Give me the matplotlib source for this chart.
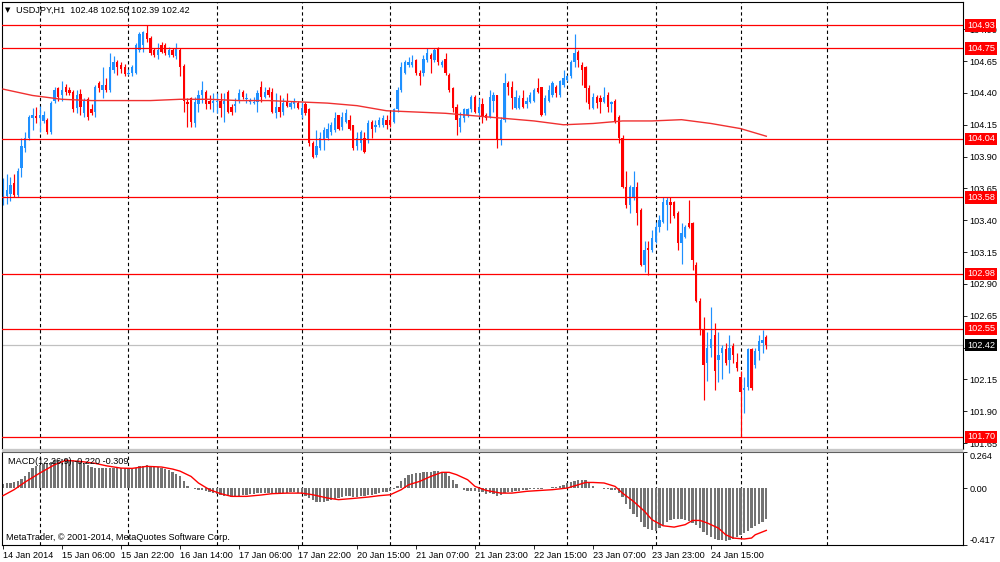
import matplotlib
matplotlib.use('Agg')
import matplotlib.pyplot as plt
import numpy as np
from matplotlib.patches import Rectangle

# ---------------- data (USDJPY H1) ----------------
opens = [
 103.56,103.59,103.61,103.69,103.60,103.81,103.97,104.05,104.20,104.22,
 104.20,104.18,104.19,104.09,104.34,104.44,104.38,104.45,104.42,104.41,
 104.28,104.39,104.24,104.35,104.27,104.25,104.48,104.42,104.46,104.42,
 104.58,104.64,104.62,104.60,104.55,104.56,104.56,104.74,104.78,104.87,
 104.83,104.74,104.70,104.78,104.78,104.70,104.74,104.69,104.74,104.61,
 104.33,104.36,104.16,104.31,104.38,104.41,104.34,104.32,104.33,104.34,
 104.31,104.41,104.29,104.30,104.34,104.41,104.35,104.33,104.32,104.33,
 104.45,104.37,104.42,104.41,104.24,104.29,104.25,104.34,104.29,104.31,
 104.32,104.23,104.31,104.27,104.01,103.91,103.97,104.03,104.05,104.09,
 104.11,104.23,104.13,104.17,104.19,104.15,103.98,104.01,104.05,104.03,
 104.17,104.13,104.15,104.15,104.19,104.19,104.17,104.27,104.42,104.56,
 104.62,104.62,104.66,104.56,104.56,104.66,104.70,104.66,104.75,104.62,
 104.67,104.54,104.44,104.29,104.13,104.20,104.23,104.27,104.37,104.24,
 104.31,104.23,104.21,104.34,104.38,104.03,104.19,104.48,104.45,104.28,
 104.28,104.36,104.31,104.33,104.34,104.44,104.45,104.24,104.34,104.38,
 104.45,104.38,104.46,104.50,104.53,104.64,104.72,104.62,104.60,104.44,
 104.28,104.37,104.36,104.33,104.38,104.31,104.34,104.21,104.05,103.66,
 103.52,103.58,103.66,103.48,103.05,103.18,103.17,103.23,103.35,103.39,
 103.52,103.54,103.54,103.46,103.22,103.27,103.38,103.38,103.05,102.77,
 102.54,102.28,102.40,102.50,102.30,102.36,102.39,102.30,102.41,102.29,
 102.17,102.07,102.09,102.39,102.26,102.37,102.44,102.48]
closes = [
 103.65,103.64,103.68,103.60,103.79,103.98,104.05,104.21,104.23,104.20,
 104.23,104.23,104.09,104.32,104.42,104.37,104.42,104.41,104.40,104.27,
 104.38,104.29,104.34,104.21,104.24,104.45,104.44,104.46,104.42,104.60,
 104.64,104.60,104.59,104.55,104.56,104.60,104.78,104.86,104.88,104.82,
 104.71,104.70,104.74,104.72,104.71,104.74,104.70,104.75,104.60,104.34,
 104.31,104.17,104.33,104.38,104.42,104.31,104.31,104.34,104.34,104.28,
 104.34,104.25,104.25,104.31,104.40,104.37,104.36,104.34,104.33,104.40,
 104.37,104.41,104.38,104.25,104.29,104.25,104.32,104.30,104.32,104.33,
 104.28,104.28,104.24,104.01,103.90,103.98,104.05,104.11,104.12,104.15,
 104.20,104.12,104.21,104.24,104.12,103.97,104.05,104.09,103.94,104.16,
 104.12,104.15,104.19,104.20,104.15,104.15,104.27,104.42,104.60,104.64,
 104.64,104.64,104.56,104.53,104.67,104.71,104.67,104.74,104.64,104.64,
 104.56,104.42,104.28,104.19,104.20,104.27,104.27,104.37,104.25,104.29,
 104.21,104.20,104.37,104.38,104.03,104.19,104.48,104.45,104.36,104.37,
 104.36,104.29,104.34,104.38,104.42,104.41,104.23,104.36,104.42,104.48,
 104.40,104.49,104.52,104.53,104.64,104.71,104.66,104.58,104.44,104.31,
 104.37,104.32,104.33,104.37,104.29,104.33,104.17,104.05,103.66,103.52,
 103.66,103.66,103.46,103.05,103.17,103.17,103.26,103.35,103.40,103.54,
 103.56,103.52,103.43,103.22,103.30,103.35,103.35,103.09,102.77,102.54,
 102.26,102.40,102.47,102.22,102.34,102.40,102.28,102.40,102.34,102.24,
 102.05,102.08,102.39,102.08,102.37,102.45,102.46,102.42]
highs = [
 103.73,103.76,103.74,103.76,103.81,104.05,104.09,104.23,104.28,104.29,
 104.30,104.26,104.20,104.34,104.45,104.45,104.49,104.47,104.45,104.42,
 104.42,104.43,104.36,104.37,104.31,104.46,104.49,104.60,104.52,104.71,
 104.69,104.66,104.64,104.63,104.59,104.62,104.79,104.88,104.89,104.93,
 104.85,104.75,104.79,104.80,104.79,104.76,104.75,104.79,104.75,104.63,
 104.36,104.37,104.37,104.42,104.49,104.42,104.38,104.40,104.40,104.40,
 104.40,104.42,104.31,104.36,104.43,104.42,104.40,104.36,104.37,104.42,
 104.49,104.45,104.45,104.44,104.40,104.38,104.36,104.40,104.34,104.36,
 104.34,104.33,104.33,104.28,104.02,104.11,104.09,104.13,104.16,104.17,
 104.25,104.23,104.25,104.27,104.23,104.15,104.09,104.11,104.09,104.19,
 104.19,104.19,104.21,104.23,104.23,104.25,104.28,104.45,104.64,104.66,
 104.68,104.70,104.67,104.58,104.70,104.75,104.71,104.75,104.76,104.66,
 104.71,104.56,104.45,104.31,104.25,104.28,104.28,104.38,104.38,104.36,
 104.36,104.24,104.42,104.41,104.38,104.21,104.56,104.49,104.49,104.42,
 104.38,104.42,104.37,104.41,104.44,104.52,104.45,104.38,104.46,104.49,
 104.46,104.50,104.58,104.54,104.66,104.86,104.74,104.64,104.61,104.46,
 104.40,104.38,104.38,104.45,104.41,104.34,104.35,104.23,104.07,103.79,
 103.68,103.79,103.70,103.50,103.24,103.24,103.32,103.39,103.44,103.58,
 103.58,103.58,103.55,103.47,103.38,103.36,103.56,103.39,103.07,102.79,
 102.64,102.52,102.72,102.59,102.52,102.42,102.44,102.50,102.44,102.36,
 102.22,102.17,102.40,102.40,102.40,102.50,102.54,102.50]
lows = [
 103.52,103.53,103.55,103.58,103.58,103.74,103.94,104.03,104.11,104.16,
 104.09,104.16,104.08,104.08,104.32,104.34,104.34,104.38,104.38,104.25,
 104.24,104.23,104.21,104.19,104.23,104.21,104.41,104.36,104.41,104.41,
 104.56,104.54,104.56,104.53,104.54,104.53,104.55,104.72,104.72,104.80,
 104.70,104.68,104.67,104.71,104.70,104.68,104.68,104.67,104.53,104.25,
 104.13,104.13,104.13,104.25,104.32,104.27,104.27,104.25,104.24,104.21,
 104.17,104.24,104.23,104.25,104.32,104.35,104.32,104.31,104.31,104.25,
 104.33,104.36,104.37,104.24,104.20,104.21,104.23,104.29,104.27,104.28,
 104.27,104.20,104.23,103.98,103.89,103.90,103.95,103.95,104.03,104.07,
 104.09,104.11,104.11,104.16,104.11,103.95,103.95,103.95,103.93,104.01,
 104.05,104.09,104.13,104.13,104.12,104.13,104.16,104.25,104.41,104.55,
 104.60,104.60,104.54,104.46,104.53,104.64,104.56,104.64,104.62,104.60,
 104.54,104.41,104.25,104.07,104.09,104.17,104.21,104.25,104.24,104.21,
 104.16,104.19,104.20,104.25,103.97,103.99,104.17,104.38,104.27,104.27,
 104.27,104.28,104.28,104.32,104.33,104.40,104.22,104.23,104.33,104.37,
 104.37,104.37,104.45,104.49,104.52,104.60,104.60,104.46,104.33,104.27,
 104.27,104.28,104.24,104.32,104.25,104.25,104.16,104.01,103.65,103.50,
 103.46,103.56,103.36,103.04,102.99,102.97,103.15,103.22,103.31,103.38,
 103.32,103.38,103.42,103.17,103.06,103.26,103.34,103.01,102.76,102.50,
 101.99,102.14,102.33,102.07,102.13,102.15,102.26,102.20,102.28,102.22,
 101.70,101.89,102.07,102.07,102.24,102.30,102.36,102.39]

# moving average (read at sampled bars)
ma_bars = [0, 8, 16, 24, 32, 40, 48, 56, 64, 72, 80, 88, 96, 104, 112, 120,
           128, 136, 144, 152, 160, 168, 176, 184, 192, 200, 207]
ma_vals = [104.43, 104.38, 104.35, 104.34, 104.34, 104.34, 104.35, 104.35,
           104.34, 104.34, 104.33, 104.32, 104.30, 104.26, 104.25, 104.24,
           104.22, 104.20, 104.18, 104.15, 104.16, 104.18, 104.18, 104.19,
           104.16, 104.12, 104.06]

# MACD histogram (main) per bar
macd_hist = [
 0.029,0.034,0.037,0.044,0.051,0.068,0.090,0.120,0.144,0.159,
 0.168,0.178,0.183,0.193,0.203,0.207,0.210,0.210,0.207,0.203,
 0.200,0.193,0.183,0.168,0.154,0.149,0.149,0.146,0.144,0.146,
 0.149,0.149,0.146,0.144,0.144,0.144,0.149,0.159,0.163,0.166,
 0.163,0.159,0.151,0.144,0.139,0.129,0.120,0.105,0.085,0.049,
 0.017,-0.002,-0.010,-0.012,-0.017,-0.024,-0.032,-0.039,-0.044,-0.051,
 -0.056,-0.061,-0.063,-0.061,-0.056,-0.051,-0.049,-0.044,-0.041,-0.039,
 -0.037,-0.034,-0.034,-0.037,-0.039,-0.037,-0.037,-0.034,-0.032,-0.032,
 -0.034,-0.041,-0.056,-0.073,-0.090,-0.100,-0.102,-0.100,-0.095,-0.088,
 -0.081,-0.073,-0.066,-0.061,-0.061,-0.066,-0.066,-0.061,-0.061,-0.054,
 -0.049,-0.044,-0.037,-0.032,-0.027,-0.020,-0.007,0.012,0.049,0.073,
 0.093,0.105,0.110,0.112,0.115,0.117,0.120,0.122,0.122,0.120,
 0.112,0.090,0.056,0.027,0.000,-0.012,-0.020,-0.024,-0.024,-0.027,
 -0.032,-0.041,-0.037,-0.046,-0.056,-0.054,-0.039,-0.032,-0.027,-0.024,
 -0.020,-0.015,-0.012,-0.010,-0.007,-0.007,-0.007,-0.002,0.000,0.005,
 0.007,0.012,0.024,0.034,0.041,0.049,0.056,0.061,0.056,0.034,
 0.015,0.002,-0.002,-0.007,-0.010,-0.012,-0.017,-0.037,-0.068,-0.115,
 -0.151,-0.188,-0.212,-0.249,-0.286,-0.300,-0.310,-0.315,-0.290,-0.271,
 -0.251,-0.237,-0.229,-0.227,-0.229,-0.234,-0.244,-0.254,-0.271,-0.293,
 -0.325,-0.344,-0.361,-0.373,-0.381,-0.383,-0.386,-0.381,-0.373,-0.361,
 -0.344,-0.329,-0.315,-0.295,-0.278,-0.261,-0.246,-0.224]

# MACD signal line (read at sampled bars)
sig_bars = [0, 3, 6, 10, 14, 17, 21, 25, 28, 32, 35, 39, 43, 46, 48, 51, 53, 56,
            59, 62, 66, 70, 73, 77, 81, 84, 88, 91, 95, 99, 102, 105, 108, 110,
            113, 116, 119, 121, 123, 126, 128, 131, 135, 138, 142, 146, 149,
            153, 156, 158, 160, 163, 166, 168, 171, 174, 176, 179, 182, 185,
            187, 189, 191, 194, 196, 198, 201, 203, 204, 207]
sig_vals = [-0.056, -0.012, 0.044, 0.110, 0.171, 0.203, 0.195, 0.181, 0.163,
            0.146, 0.144, 0.159, 0.154, 0.139, 0.124, 0.085, 0.037, -0.012,
            -0.041, -0.061, -0.061, -0.051, -0.041, -0.037, -0.037, -0.049,
            -0.073, -0.085, -0.076, -0.066, -0.056, -0.049, -0.012, 0.024,
            0.049, 0.085, 0.115, 0.115, 0.098, 0.061, 0.012, -0.017, -0.037,
            -0.037, -0.024, -0.017, -0.012, 0.000, 0.024, 0.041, 0.041, 0.037,
            0.012, -0.037, -0.098, -0.171, -0.232, -0.276, -0.286, -0.268,
            -0.237, -0.237, -0.256, -0.293, -0.342, -0.366, -0.373, -0.366,
            -0.342, -0.310]

levels = [104.93, 104.75, 104.04, 103.58, 102.98, 102.55, 101.70]
bid = 102.42
price_ticks = [101.65, 101.90, 102.15, 102.40, 102.65, 102.90, 103.15, 103.40,
               103.65, 103.90, 104.15, 104.40, 104.65, 104.90]
time_tick_bars = [0, 16, 32, 48, 64, 80, 96, 112, 128, 144, 160, 176, 192]
time_labels = ["14 Jan 2014", "15 Jan 06:00", "15 Jan 22:00", "16 Jan 14:00",
               "17 Jan 06:00", "17 Jan 22:00", "20 Jan 15:00", "21 Jan 07:00",
               "21 Jan 23:00", "22 Jan 15:00", "23 Jan 07:00", "23 Jan 23:00",
               "24 Jan 15:00"]
separator_bars = [10, 34, 58, 81, 105, 129, 153, 177, 200, 223.5]
title = "USDJPY,H1  102.48 102.50 102.39 102.42"
macd_title = "MACD(12,26,9) -0.220 -0.309"
macd_max, macd_min = 0.264, -0.417
copyright_txt = "MetaTrader, \u00a9 2001-2014, MetaQuotes Software Corp."

# ---------------- figure ----------------
plt.rcParams['font.family'] = ['Liberation Sans', 'DejaVu Sans']
FS = 6.6
W, H = 1000, 562
fig = plt.figure(figsize=(10, 5.62), dpi=100)
fig.patch.set_facecolor('white')

def fx(p): return p / W
def fy(p): return 1 - p / H

L, R = 2, 963
ax = fig.add_axes([fx(L), fy(449), fx(R) - fx(L), fy(2) - fy(449)])
axm = fig.add_axes([fx(L), fy(545), fx(R) - fx(L), fy(452) - fy(545)], sharex=ax)

bar_px = 3.6875
ax.set_xlim(-1 / bar_px, (R - L - 1) / bar_px)
ax.set_ylim(101.604, 105.114)
axm.set_ylim(macd_min, macd_max)

o = np.array(opens); c = np.array(closes)
hi = np.array(highs); lo = np.array(lows)
idx = np.arange(len(c))
up = c > o
cols = np.where(up, '#1E90FF', '#FF0000')
ax.vlines(idx, lo, hi, colors=cols, lw=0.85, zorder=2)
bottom = np.minimum(o, c)
height = np.maximum(np.abs(c - o), 0.006)
ax.bar(idx, height, bottom=bottom, width=0.62, color=cols, linewidth=0, zorder=2)

# moving average
ax.plot(ma_bars, ma_vals, color='#F03030', lw=1.0, zorder=3)

# level lines
for lv in levels:
    ax.axhline(lv, color='#FF0000', lw=0.9, zorder=3)
ax.axhline(bid, color='#C0C0C0', lw=0.9, zorder=1.5)

# separators
for axx in (ax, axm):
    for s in separator_bars:
        axx.axvline(s, color='black', lw=0.8, ls=(0, (3, 2.5)), zorder=1)
    for sp in axx.spines.values():
        sp.set_linewidth(0.8)
        sp.set_color('black')

# price axis
ax.yaxis.tick_right()
ax.set_yticks(price_ticks)
ax.set_yticklabels([f"{v:.2f}" for v in price_ticks], fontsize=FS)
ax.tick_params(axis='y', direction='out', length=3, width=0.6, pad=1.5)
ax.tick_params(axis='x', bottom=False, labelbottom=False)
ax.spines['bottom'].set_color('#606060')

yt = ax.get_yaxis_transform()
for lv in levels:
    ax.text(1 + 4 / (R - L), lv, f"{lv:.2f}", transform=yt, fontsize=FS,
            color='white', va='center', ha='left', clip_on=False, zorder=10,
            bbox=dict(boxstyle='square,pad=0.18', fc='#FF0000', ec='none'))
ax.text(1 + 4 / (R - L), bid, f"{bid:.2f}", transform=yt, fontsize=FS,
        color='white', va='center', ha='left', clip_on=False, zorder=10,
        bbox=dict(boxstyle='square,pad=0.18', fc='black', ec='none'))

# title
fig.text(fx(5), fy(10), "\u25bc", fontsize=5, va='center', ha='left',
         family='DejaVu Sans')
fig.text(fx(16), fy(10), title, fontsize=FS, va='center', ha='left')

# MACD panel
axm.bar(idx, macd_hist, width=0.62, color='#737373', linewidth=0, zorder=2)
axm.plot(sig_bars, sig_vals, color='#FF0000', lw=1.0, zorder=3)
axm.yaxis.tick_right()
axm.set_yticks([macd_max, 0.0, macd_min])
axm.set_yticklabels([f"{macd_max:.3f}", "0.00", f"{macd_min:.3f}"], fontsize=FS)
tl = axm.get_yticklabels()
tl[0].set_va('top'); tl[2].set_va('bottom')
axm.tick_params(axis='y', direction='out', length=3, width=0.6, pad=1.5)
axm.spines['top'].set_color('#606060')
axm.text(fx(6) / (fx(R) - fx(L)), 0.9, macd_title, transform=axm.transAxes,
         fontsize=FS, va='center', ha='left', zorder=5)
axm.text(fx(4) / (fx(R) - fx(L)), 0.08, copyright_txt, transform=axm.transAxes,
         fontsize=FS, va='center', ha='left', zorder=5)

axm.set_xticks(time_tick_bars)
axm.set_xticklabels(time_labels, fontsize=FS)
for t in axm.get_xticklabels():
    t.set_ha('left')
axm.tick_params(axis='x', direction='out', length=3, width=0.6, pad=1.5)

# panel separator band
fig.add_artist(Rectangle((fx(L), fy(452)), fx(R) - fx(L), fy(449) - fy(452),
                         transform=fig.transFigure, fc='#C8C8C8', ec='none'))

fig.savefig('out.png', dpi=100, facecolor='white')
